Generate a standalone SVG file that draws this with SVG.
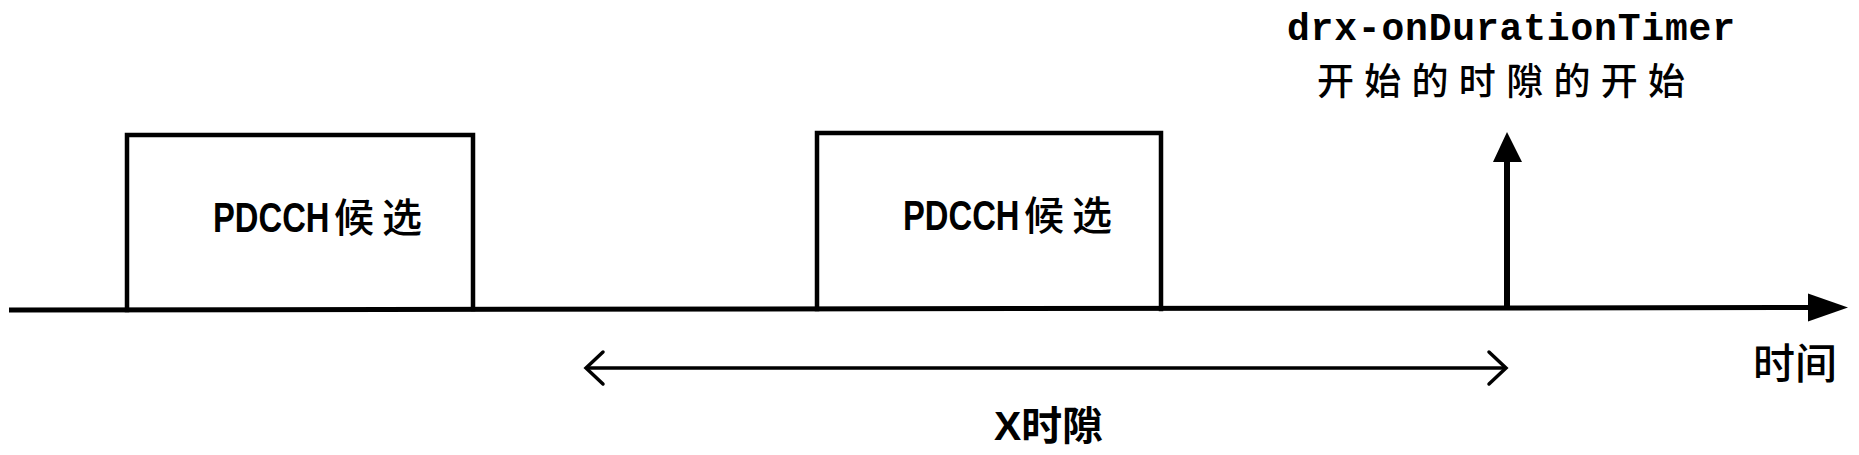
<svg xmlns="http://www.w3.org/2000/svg" width="1859" height="455" viewBox="0 0 1859 455">
<style>
.ln{fill:none;stroke:#000;stroke-linejoin:miter;stroke-linecap:square}
.lat{font-family:"Liberation Sans","Noto Sans CJK SC",sans-serif;font-weight:bold;fill:#000}
.cjk{font-family:"Noto Sans CJK SC",sans-serif;font-weight:500;fill:#000}
.mono{font-family:"Liberation Mono","Noto Sans CJK SC",monospace;font-weight:bold;fill:#000}
</style>
<defs>
<marker id="chev" markerUnits="userSpaceOnUse" markerWidth="22" markerHeight="36" refX="19" refY="18" orient="auto-start-reverse" overflow="visible">
<path d="M2,2 L19,18 L2,34" fill="none" stroke="#000" stroke-width="3.5" stroke-linecap="round"/>
</marker>
</defs>
<rect width="1859" height="455" fill="#fff"/>
<g id="connectors">
<line id="time-axis" x1="9" y1="310" x2="1812" y2="307.5" stroke="#000" stroke-width="5"/>
<polygon points="1808,293.5 1848,307.5 1808,321.5" fill="#000"/>
<line id="drx-start-arrow" x1="1507" y1="309" x2="1507" y2="158" stroke="#000" stroke-width="6"/>
<polygon points="1493,162 1507,132 1522,162" fill="#000"/>
<line id="x-slots-span" x1="586" y1="368" x2="1506" y2="368" stroke="#000" stroke-width="3.5" marker-start="url(#chev)" marker-end="url(#chev)"/>
</g>
<g id="pdcch-candidate-1">
<polyline class="ln" stroke-width="4.5" points="127,310 127,135 473,135 473,309"/>
<text class="lat" font-size="42" transform="translate(213,232) scale(0.78,1)">PDCCH</text>
<text class="cjk" x="334" y="232" font-size="40" textLength="88">候选</text>
</g>
<g id="pdcch-candidate-2">
<polyline class="ln" stroke-width="4.5" points="817,309 817,133 1161,133 1161,309"/>
<text class="lat" font-size="42" transform="translate(903,230) scale(0.78,1)">PDCCH</text>
<text class="cjk" x="1024" y="230" font-size="40" textLength="88">候选</text>
</g>
<g id="drx-label">
<text class="mono" x="1287" y="40" font-size="38" textLength="448">drx-onDurationTimer</text>
<text class="cjk" x="1317" y="95" font-size="37" textLength="368">开始的时隙的开始</text>
</g>
<g id="time-label">
<text class="cjk" x="1753" y="379" font-size="42" textLength="84">时间</text>
</g>
<g id="x-slots-label">
<text class="lat" x="994" y="440" font-size="40" textLength="109" lengthAdjust="spacingAndGlyphs">X时隙</text>
</g>
</svg>
